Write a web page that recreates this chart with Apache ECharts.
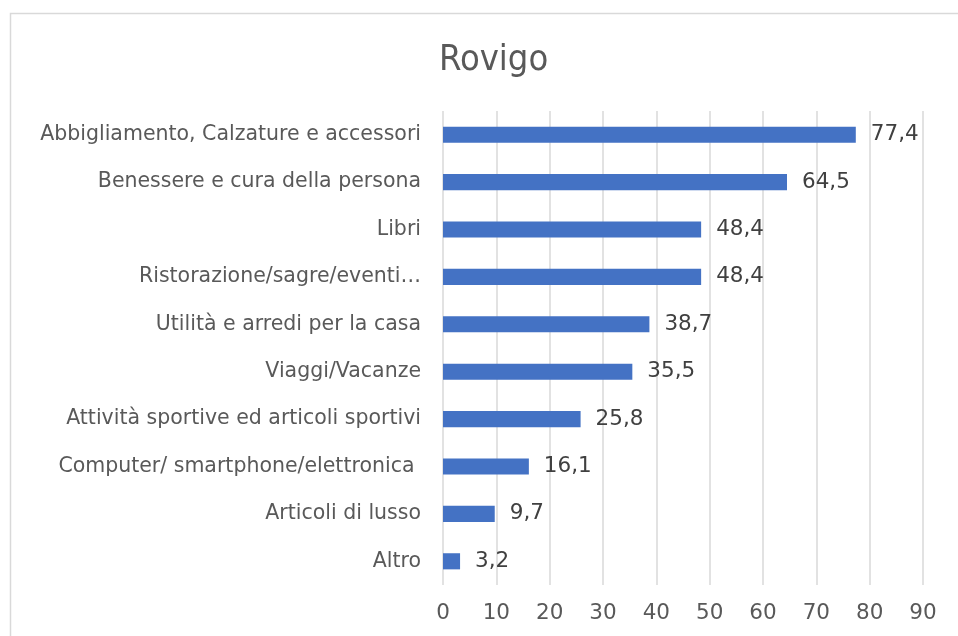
<!DOCTYPE html>
<html>
<head>
<meta charset="utf-8">
<script src="https://cdn.jsdelivr.net/npm/echarts@6/dist/echarts.min.js"></script>
<style>
  html, body { margin: 0; padding: 0; background: #fff; }
  #chart { width: 958px; height: 636px; }
</style>
</head>
<body>
<div id="chart"></div>
<script>
// Rovigo - categorie di acquisto (%)
var categories = [
  'Abbigliamento, Calzature e accessori',
  'Benessere e cura della persona',
  'Libri',
  'Ristorazione/sagre/eventi…',
  'Utilità e arredi per la casa',
  'Viaggi/Vacanze',
  'Attività sportive ed articoli sportivi',
  'Computer/ smartphone/elettronica ',
  'Articoli di lusso',
  'Altro'
];
var values = [77.4, 64.5, 48.4, 48.4, 38.7, 35.5, 25.8, 16.1, 9.7, 3.2];
var xTicks = [0, 10, 20, 30, 40, 50, 60, 70, 80, 90];

(function() {
  var font = 'DejaVu Sans';
  var chart = echarts.init(document.getElementById('chart'), null, { renderer: 'canvas' });

  chart.setOption({
    animation: false,
    title: {
      text: 'Rovigo',
      left: 434,
      top: 38,
      textStyle: { color: '#595959', fontSize: 36, fontWeight: 'normal', fontFamily: 'DejaVu Sans Condensed' }
    },
    graphic: [{
      type: 'rect',
      shape: { x: 10.5, y: 13.5, width: 1000, height: 1000 },
      style: { fill: 'none', stroke: '#d9d9d9', lineWidth: 1.5 },
      silent: true
    }],
    grid: { left: 443, right: 35, top: 111, bottom: 51 },
    xAxis: {
      type: 'value',
      min: xTicks[0],
      max: xTicks[xTicks.length - 1],
      interval: 10,
      axisLine: { show: false },
      axisTick: { show: false },
      axisLabel: { color: '#595959', fontSize: 21.5, fontFamily: font, margin: 17 },
      splitLine: { lineStyle: { color: '#d9d9d9', width: 1.5 } }
    },
    yAxis: {
      type: 'category',
      data: categories,
      inverse: true,
      axisLine: { show: false },
      axisTick: { show: false },
      axisLabel: { color: '#595959', fontSize: 20.5, fontFamily: font, margin: 22 }
    },
    series: [{
      type: 'bar',
      data: values,
      barWidth: '34%',
      itemStyle: { color: '#4472c4' },
      label: {
        show: true,
        position: 'right',
        distance: 15,
        color: '#404040',
        fontSize: 21.5,
        fontFamily: font,
        formatter: function(p) { return String(p.value).replace('.', ','); }
      }
    }]
  });
})();
</script>
</body>
</html>
